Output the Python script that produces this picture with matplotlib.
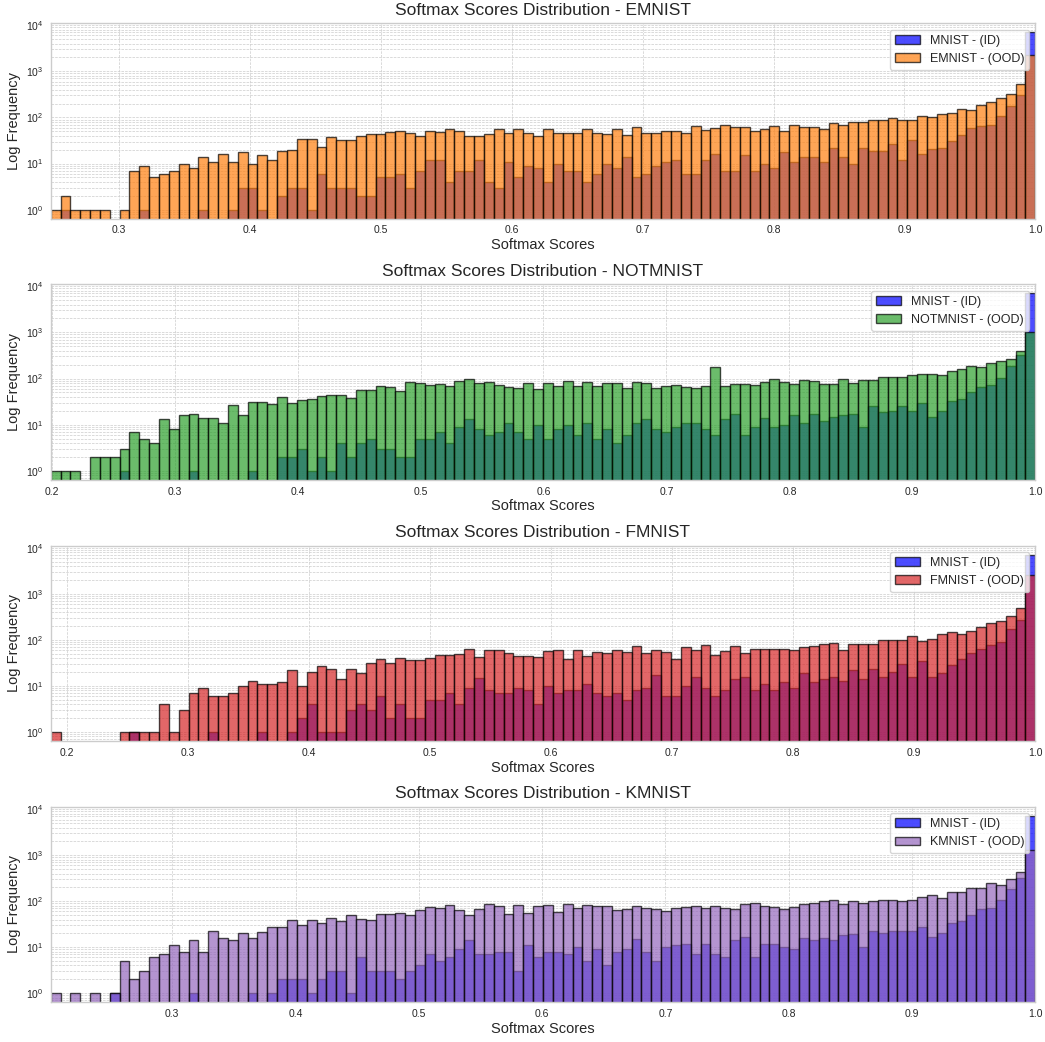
import numpy as np
import matplotlib
matplotlib.use("Agg")
import matplotlib.pyplot as plt

plt.style.use("seaborn-v0_8-whitegrid")
plt.rcParams["font.family"] = ["Liberation Sans", "DejaVu Sans"]

# 100 equal bins from the lowest score to 1.0 in each panel
datasets = ["EMNIST", "NOTMNIST", "FMNIST", "KMNIST"]
ood_colors = ["tab:orange", "tab:green", "tab:red", "tab:purple"]
score_min = [0.2476, 0.1992, 0.1863, 0.2014]
n_bins = 100

# --- EMNIST panel ---
mnist_vs_emnist = [0, 1, 0, 0, 0, 0, 0, 0, 0, 1,
                   0, 0, 0, 0, 0, 1, 0, 0, 1, 3,
                   3, 1, 0, 2, 3, 3, 1, 6, 3, 3,
                   3, 2, 2, 5, 5, 6, 3, 7, 12, 12,
                   4, 7, 7, 12, 4, 3, 11, 5, 9, 8,
                   4, 10, 7, 7, 4, 6, 10, 8, 14, 5,
                   6, 9, 11, 12, 6, 6, 12, 16, 7, 7,
                   15, 7, 10, 8, 18, 11, 14, 14, 11, 22,
                   14, 10, 22, 19, 19, 27, 12, 32, 16, 21,
                   22, 31, 41, 59, 64, 67, 109, 176, 311, 7040]
emnist = [1, 2, 1, 1, 1, 1, 0, 1, 7, 9,
          5, 6, 7, 10, 8, 14, 11, 16, 11, 18,
          10, 15, 12, 19, 20, 34, 34, 23, 37, 32,
          33, 39, 43, 43, 49, 50, 45, 40, 52, 48,
          56, 50, 39, 39, 44, 55, 45, 56, 46, 40,
          55, 46, 46, 46, 56, 47, 44, 56, 42, 61,
          47, 45, 52, 50, 46, 66, 54, 60, 68, 63,
          63, 50, 56, 65, 52, 70, 62, 62, 55, 77,
          67, 79, 80, 87, 86, 97, 86, 90, 105, 103,
          116, 122, 154, 142, 185, 219, 268, 327, 540, 2260]

# --- NOTMNIST panel ---
mnist_vs_notmnist = [0, 0, 0, 0, 0, 0, 0, 1, 0, 0,
                     0, 0, 0, 0, 1, 0, 0, 0, 0, 0,
                     1, 0, 0, 2, 2, 3, 1, 2, 1, 4,
                     2, 4, 5, 3, 3, 2, 2, 5, 5, 7,
                     4, 9, 13, 8, 6, 7, 11, 7, 5, 10,
                     5, 8, 10, 6, 11, 5, 8, 4, 6, 11,
                     13, 8, 7, 9, 11, 11, 8, 6, 13, 17,
                     6, 9, 14, 9, 10, 16, 11, 17, 12, 15,
                     16, 17, 9, 25, 19, 20, 25, 20, 30, 15,
                     20, 32, 36, 50, 65, 73, 103, 188, 316, 7000]
notmnist = [1, 1, 1, 0, 2, 2, 2, 3, 7, 5,
            4, 13, 8, 16, 17, 14, 14, 11, 27, 16,
            31, 31, 28, 40, 30, 35, 36, 42, 44, 44,
            37, 56, 57, 68, 65, 53, 83, 78, 72, 75,
            68, 87, 100, 79, 86, 72, 67, 62, 80, 58,
            80, 70, 87, 70, 84, 69, 80, 78, 63, 83,
            80, 62, 70, 73, 65, 63, 70, 176, 68, 75,
            75, 72, 82, 97, 85, 76, 92, 87, 75, 75,
            97, 80, 92, 92, 107, 110, 109, 118, 124, 124,
            120, 147, 160, 185, 176, 212, 238, 268, 393, 1030]

# --- FMNIST panel ---
mnist_vs_fmnist = [0, 0, 0, 0, 0, 0, 0, 0, 1, 0,
                   0, 0, 0, 0, 0, 0, 1, 0, 0, 0,
                   0, 1, 0, 0, 1, 2, 4, 1, 1, 1,
                   3, 4, 3, 6, 2, 4, 2, 2, 5, 5,
                   7, 4, 9, 15, 8, 7, 7, 9, 8, 4,
                   10, 7, 8, 8, 11, 7, 6, 7, 5, 8,
                   9, 17, 6, 6, 10, 16, 9, 6, 8, 14,
                   16, 8, 11, 8, 12, 9, 19, 12, 14, 16,
                   13, 22, 14, 23, 16, 20, 30, 16, 35, 16,
                   19, 28, 39, 52, 65, 78, 89, 176, 277, 7160]
fmnist = [1, 0, 0, 0, 0, 0, 0, 1, 1, 1,
          1, 4, 1, 3, 7, 9, 6, 6, 7, 10,
          13, 11, 11, 12, 22, 10, 20, 27, 23, 14,
          23, 19, 32, 38, 32, 41, 37, 37, 40, 46,
          46, 50, 63, 42, 60, 60, 51, 44, 44, 42,
          58, 60, 39, 60, 44, 55, 51, 60, 55, 74,
          51, 60, 54, 38, 69, 60, 76, 47, 57, 74,
          52, 63, 63, 63, 62, 60, 70, 74, 83, 86,
          61, 83, 80, 83, 100, 101, 101, 122, 94, 105,
          135, 147, 135, 160, 195, 234, 255, 338, 496, 2550]

# --- KMNIST panel ---
mnist_vs_kmnist = [0, 0, 0, 0, 0, 0, 1, 0, 0, 0,
                   0, 0, 0, 0, 1, 0, 0, 0, 0, 0,
                   1, 0, 1, 2, 2, 2, 1, 2, 3, 3,
                   1, 6, 3, 3, 3, 2, 3, 4, 7, 5,
                   6, 9, 14, 7, 7, 8, 8, 3, 11, 6,
                   8, 8, 7, 10, 5, 9, 4, 8, 9, 15,
                   8, 5, 10, 11, 12, 7, 12, 7, 6, 14,
                   17, 6, 12, 12, 10, 9, 16, 14, 16, 14,
                   18, 19, 10, 23, 20, 23, 23, 22, 28, 17,
                   20, 34, 37, 50, 68, 72, 107, 185, 316, 7280]
kmnist = [1, 0, 1, 0, 1, 0, 1, 5, 2, 3,
          6, 7, 11, 8, 14, 8, 23, 16, 14, 20,
          16, 21, 27, 28, 39, 31, 40, 34, 44, 37,
          51, 41, 39, 53, 53, 56, 50, 65, 75, 73,
          83, 65, 51, 69, 87, 77, 54, 83, 56, 79,
          83, 58, 87, 70, 84, 77, 78, 65, 67, 79,
          70, 67, 61, 72, 75, 78, 72, 77, 73, 69,
          87, 92, 77, 75, 68, 75, 87, 92, 102, 105,
          87, 102, 92, 102, 107, 108, 102, 105, 124, 135,
          118, 157, 162, 192, 192, 246, 230, 301, 427, 1306]

id_counts = [mnist_vs_emnist, mnist_vs_notmnist, mnist_vs_fmnist, mnist_vs_kmnist]
ood_counts = [emnist, notmnist, fmnist, kmnist]

fig, axes = plt.subplots(4, 1, figsize=(10.45, 10.42), dpi=100)
fig.subplots_adjust(left=0.0485, right=0.9907, top=0.9776, bottom=0.0384, hspace=0.338)

for ax, name, col, lo, idc, oodc in zip(axes, datasets, ood_colors, score_min, id_counts, ood_counts):
    edges = np.linspace(lo, 1.0, n_bins + 1)
    centers = (edges[:-1] + edges[1:]) / 2
    ax.hist(centers, bins=edges, weights=idc, color="blue", alpha=0.7,
            edgecolor="black", linewidth=1, log=True, label="MNIST - (ID)")
    ax.hist(centers, bins=edges, weights=oodc, color=col, alpha=0.7,
            edgecolor="black", linewidth=1, log=True, label=f"{name} - (OOD)")
    ax.set_xlim(lo, 1.0)
    ax.set_title(f"Softmax Scores Distribution - {name}", fontsize=12.5)
    ax.set_xlabel("Softmax Scores", fontsize=10.5, labelpad=2)
    ax.set_ylabel("Log Frequency", fontsize=10.5)
    ax.tick_params(labelsize=7.5, pad=5)
    ax.grid(True, which="both", linestyle="--", linewidth=0.5)
    ax.legend(loc="upper right", frameon=True, fontsize=9)

fig.savefig("out.png")
